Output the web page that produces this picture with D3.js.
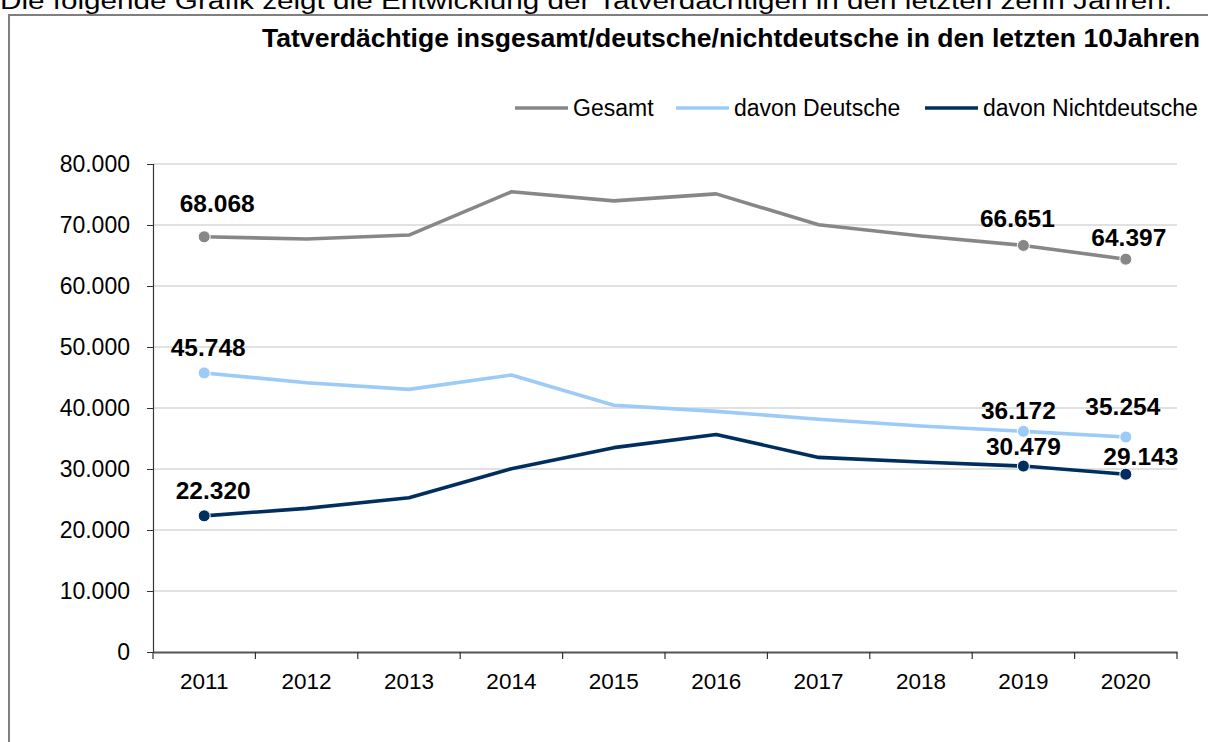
<!DOCTYPE html>
<html><head><meta charset="utf-8">
<script src="https://cdn.jsdelivr.net/npm/d3@7"></script>
<style>
html,body{margin:0;padding:0;background:#fff;overflow:hidden}
svg{display:block;font-family:"Liberation Sans",Arial,sans-serif}
</style></head><body>
<svg id="c" width="1208" height="742"></svg>
<script>
const years = ["2011","2012","2013","2014","2015","2016","2017","2018","2019","2020"];
const gesamt = [68068, 67700, 68350, 75450, 73950, 75100, 70050, 68200, 66651, 64397];
const deutsche = [45748, 44150, 43050, 45400, 40450, 39450, 38150, 37050, 36172, 35254];
const nichtdeutsche = [22320, 23550, 25300, 30050, 33500, 35650, 31900, 31150, 30479, 29143];
const yTicks = [0, 10000, 20000, 30000, 40000, 50000, 60000, 70000, 80000];
const labelledIdx = [0, 8, 9];
const seriesNames = ["Gesamt", "davon Deutsche", "davon Nichtdeutsche"];
const colors = ["#878787", "#9ccbf8", "#002e5f"];
const titleText = "Tatverdächtige insgesamt/deutsche/nichtdeutsche in den letzten 10Jahren";
const introText = "Die folgende Grafik zeigt die Entwicklung der Tatverdächtigen in den letzten zehn Jahren.";

(function(){
const series = [gesamt, deutsche, nichtdeutsche].map((v, i) => ({name: seriesNames[i], values: v, color: colors[i]}));
// label offsets (layout only) per series, per labelled index
const labelOffsets = [
  [[13,-25],[-6,-18],[3,-13]],
  [[4,-17],[-5,-12],[-3,-22]],
  [[9,-17],[0,-11],[15,-9]]
];

const svg = d3.select("#c");
const fmt = d3.formatLocale({decimal:",", thousands:".", grouping:[3], currency:["","€"]}).format(",d");

svg.append("text").attr("x", 0).attr("y", 9).attr("font-size", 23).attr("fill", "#000")
  .attr("textLength", 1172).attr("lengthAdjust", "spacingAndGlyphs").text(introText);
svg.append("rect").attr("x", 9).attr("y", 15).attr("width", 1260).attr("height", 800)
  .attr("fill", "none").attr("stroke", "#7f7f7f").attr("stroke-width", 2);

svg.append("text").attr("x", 262).attr("y", 47).attr("font-size", 25).attr("font-weight", "bold")
  .attr("fill", "#000").attr("textLength", 938).attr("lengthAdjust", "spacingAndGlyphs").text(titleText);

const pl = 153, pr = 1177, pt = 164, pb = 652;
const x = d3.scaleBand().domain(years).range([pl, pr]);
const y = d3.scaleLinear().domain([0, 80000]).range([pb, pt]);

svg.append("g").selectAll("line").data(yTicks.filter(d => d > 0)).join("line")
  .attr("x1", pl).attr("x2", pr).attr("y1", d => y(d)).attr("y2", d => y(d))
  .attr("stroke", "#c3c3c3").attr("stroke-width", 1.2);

const ya = svg.append("g").attr("transform", `translate(${pl},0)`)
  .call(d3.axisLeft(y).tickValues(yTicks).tickFormat(d => fmt(d)).tickSize(6).tickPadding(17));
ya.select(".domain").attr("stroke", "#333").attr("stroke-width", 1.2);
ya.selectAll(".tick line").attr("stroke", "#333");
ya.selectAll("text").attr("font-size", 23).attr("fill", "#000").attr("font-family", "Liberation Sans, Arial, sans-serif");

const xa = svg.append("g").attr("transform", `translate(0,${pb})`)
  .call(d3.axisBottom(x).tickSize(0).tickPadding(21));
xa.select(".domain").attr("stroke", "#555").attr("stroke-width", 2);
xa.selectAll("text").attr("font-size", 22.5).attr("fill", "#000").attr("font-family", "Liberation Sans, Arial, sans-serif");
const bounds = years.map(d => x(d)).concat([pr]);
svg.append("g").selectAll("line").data(bounds).join("line")
  .attr("x1", d => d).attr("x2", d => d).attr("y1", pb).attr("y2", pb + 7)
  .attr("stroke", "#333").attr("stroke-width", 1.2);

const cx = d => x(d) + x.bandwidth() / 2;
const line = d3.line().x((d, i) => cx(years[i])).y(d => y(d));

series.forEach((s, si) => {
  svg.append("path").datum(s.values).attr("d", line).attr("fill", "none")
    .attr("stroke", s.color).attr("stroke-width", 3.6).attr("stroke-linejoin", "round");
  labelledIdx.forEach((idx, li) => {
    svg.append("circle").attr("cx", cx(years[idx])).attr("cy", y(s.values[idx])).attr("r", 6)
      .attr("fill", s.color).attr("stroke", "#fff").attr("stroke-width", 1);
    const off = labelOffsets[si][li];
    svg.append("text").attr("x", cx(years[idx]) + off[0]).attr("y", y(s.values[idx]) + off[1])
      .attr("text-anchor", "middle").attr("font-size", 24.5).attr("font-weight", "bold").attr("fill", "#000")
      .text(fmt(s.values[idx]));
  });
});

const legendX = [515, 676, 925];
const lg = svg.append("g");
series.forEach((s, i) => {
  lg.append("line").attr("x1", legendX[i]).attr("x2", legendX[i] + 53).attr("y1", 108).attr("y2", 108)
    .attr("stroke", s.color).attr("stroke-width", 3.6);
  lg.append("text").attr("x", legendX[i] + 58).attr("y", 116).attr("font-size", 23).attr("fill", "#000").text(s.name);
});
})();
</script></body></html>
